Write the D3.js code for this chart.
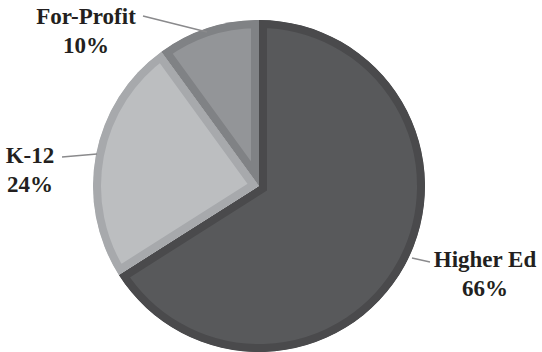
<!DOCTYPE html>
<html>
<head>
<meta charset="utf-8">
<script src="https://cdn.jsdelivr.net/npm/d3@7"></script>
<style>
  html, body { margin: 0; padding: 0; background: #fff; }
</style>
</head>
<body>
<svg id="chart" width="542" height="352"></svg>
<script>
// Share of customers by segment
const categories = ["Higher Ed", "K-12", "For-Profit"];
const values = [66, 24, 10];
const fills = ["#58595b", "#bcbec0", "#939598"];
const borders = ["#4a4a4c", "#a7a9ac", "#808285"];

// label anchor positions (text centre, first-line baseline) and leader line ends
const labelPos = [[485, 267], [30, 163], [86, 24]];
const leaderEnds = [[[412, 258], [430, 262]], [[62, 157], [97, 154]], [[143, 16], [207, 32]]];

const svg = d3.select("#chart");
const cx = 259, cy = 186, r = 166, border = 8;

const pie = d3.pie().sort(null).value(d => d)(values);
const arc = d3.arc().innerRadius(0).outerRadius(r);

const g = svg.append("g").attr("transform", `translate(${cx},${cy})`);
const defs = svg.append("defs");

pie.forEach((p, i) => {
  defs.append("clipPath").attr("id", "clip" + i)
    .append("path").attr("d", arc(p));
  g.append("path")
    .attr("d", arc(p))
    .attr("fill", fills[i])
    .attr("stroke", borders[i])
    .attr("stroke-width", border * 2)
    .attr("stroke-linejoin", "miter")
    .attr("clip-path", `url(#clip${i})`);
});

// leader lines
leaderEnds.forEach(seg => {
  svg.append("line")
    .attr("x1", seg[0][0]).attr("y1", seg[0][1])
    .attr("x2", seg[1][0]).attr("y2", seg[1][1])
    .attr("stroke", "#8a8a8c").attr("stroke-width", 1.3);
});

// labels
categories.forEach((c, i) => {
  const t = svg.append("text")
    .attr("x", labelPos[i][0]).attr("y", labelPos[i][1])
    .attr("text-anchor", "middle")
    .attr("font-family", "'Liberation Serif', 'Times New Roman', Times, serif")
    .attr("font-weight", 700)
    .attr("font-size", 23)
    .attr("fill", "#231f20");
  t.append("tspan").attr("x", labelPos[i][0]).text(c);
  t.append("tspan").attr("x", labelPos[i][0]).attr("dy", 28.5).text(values[i] + "%");
});
</script>
</body>
</html>
